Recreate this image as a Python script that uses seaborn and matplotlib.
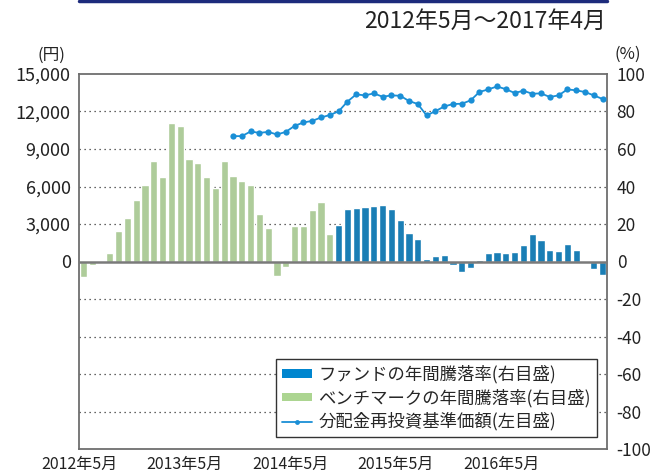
#!/usr/bin/python3

# libraries
import matplotlib
matplotlib.use('Agg')

import matplotlib.pyplot as plt
import numpy as np
import pandas as pd
import seaborn as sns
from matplotlib.lines import Line2D
from matplotlib.patches import Patch
from matplotlib.ticker import FuncFormatter

# ------------------------------------------------------------
#     Data  (2012/5 - 2017/4, monthly)
# ------------------------------------------------------------

months = pd.period_range("2012-05", "2017-04", freq="M")

# benchmark yearly return [%], 2012/5 - 2014/9 (29 months)
bench_ret = [
    -8.2, -1.8, 0.0, 4.5, 16.2, 23.4, 33.0, 40.8, 53.7, 45.1,
    74.0, 72.5, 54.7, 52.6, 45.1, 39.2, 53.7, 45.6, 43.0, 40.8,
    25.3, 17.8, -7.8, -2.9, 18.9, 18.9, 27.4, 31.7, 14.6,
]

# fund yearly return [%], 2014/10 - 2017/4 (31 months)
fund_ret = [
    19.4, 28.0, 28.5, 29.1, 29.6, 30.1, 28.0, 22.1, 15.2, 11.9,
    1.2, 2.9, 3.4, -1.8, -5.7, -3.6, 0.7, 4.5, 5.0, 4.5,
    5.0, 8.7, 14.6, 11.4, 6.1, 5.5, 9.3, 6.1, 0.0, -3.9,
    -7.3,
]

# NAV (dividends reinvested) [yen], 2013/10 - 2017/4 (43 months)
nav = [
    10030, 10030, 10400, 10290, 10370, 10160, 10370, 10850, 11120, 11250,
    11520, 11720, 12010, 12790, 13370, 13290, 13450, 13180, 13290, 13260,
    12840, 12600, 11680, 12030, 12400, 12600, 12620, 12890, 13560, 13770,
    14000, 13790, 13480, 13660, 13420, 13450, 13160, 13290, 13770, 13690,
    13560, 13290, 13000,
]

year_ticks = ["2012年5月", "2013年5月", "2014年5月", "2015年5月", "2016年5月"]

# ------------------------------------------------------------
#     Tables
# ------------------------------------------------------------

n = len(months)
pos = list(range(n))
n_bench = len(bench_ret)
bars = pd.DataFrame({
    "pos": pos,
    "ret": bench_ret + fund_ret,
    "series": ["bench"] * n_bench + ["fund"] * len(fund_ret),
})
line = pd.DataFrame({
    "pos": pos[n - len(nav):],
    "nav": nav,
})

c_fund = "#0086cf"
c_bench = "#acd591"
c_line = "#1a8fd6"
c_navy = "#1d2b7c"
c_text = "#222222"

# ------------------------------------------------------------
#     Plot
# ------------------------------------------------------------

sns.set_style("white")
plt.rcParams['font.family'] = ['Noto Sans CJK JP', 'DejaVu Sans']

fig = plt.figure(figsize=(6.54, 4.73), dpi=100)
ax = fig.add_axes([79 / 654, 1 - 449 / 473, 528 / 654, 375 / 473])

# bars -> right axis scale (%)
sns.barplot(
    data=bars, x="pos", y="ret", hue="series", order=pos,
    palette={"bench": c_bench, "fund": c_fund}, dodge=False,
    width=0.8, errorbar=None, legend=False, ax=ax, zorder=2,
)
ax.set_xlim(-0.5, n - 0.5)
ax.set_ylim(-100, 100)
ax.set_yticks(np.arange(-100, 101, 20))
ax.yaxis.set_major_formatter(FuncFormatter(lambda v, p: f"{int(round(v))}"))
ax.set_xlabel("")
ax.set_ylabel("")
ax.set_axisbelow(True)
for y in range(-80, 81, 20):
    if y != 0:
        ax.axhline(y, color="#333333", lw=0.9, ls=(0, (1, 3)), zorder=0)
ax.axhline(0, color="#7a7a7a", lw=1.8, zorder=3)

ax.set_xticks([-0.5 + 12 * i for i in range(len(year_ticks))])
ax.set_xticklabels(year_ticks)
ax.tick_params(axis="both", length=0, colors=c_text)
ax.tick_params(axis="x", pad=5, labelsize=11.5)
ax.tick_params(axis="y", pad=7, labelsize=12.5)

for sp in ax.spines.values():
    sp.set_color("#6e6e6e")
    sp.set_linewidth(1.3)

# NAV line -> left axis (yen)
ax2 = ax.twinx()
sns.lineplot(
    data=line, x="pos", y="nav", color=c_line, lw=1.3,
    marker="o", markersize=4.5, markeredgewidth=0, ax=ax2,
)
ax2.set_ylim(-15000, 15000)
ax2.set_yticks(np.arange(0, 15001, 3000))
ax2.yaxis.set_major_formatter(FuncFormatter(lambda v, p: f"{int(v):,}"))
ax2.set_xlabel("")
ax2.set_ylabel("")
ax2.tick_params(axis="y", length=0, labelsize=13, colors=c_text, pad=6)
for sp in ax2.spines.values():
    sp.set_visible(False)

# twinx moves the ticks of the first axes, so swap sides afterwards
ax.yaxis.tick_right()
ax2.yaxis.tick_left()

# unit labels
fig.text(51 / 654, 1 - 55 / 473, "(円)", ha="center", va="center", fontsize=12, color=c_text)
fig.text(628 / 654, 1 - 54 / 473, "(%)", ha="center", va="center", fontsize=12, color=c_text)

# header
fig.add_artist(Line2D([79 / 654, 607 / 654], [1 - 1.5 / 473] * 2, color=c_navy, lw=2.5))
fig.text(606 / 654, 1 - 21 / 473, "2012年5月～2017年4月", ha="right", va="center",
         fontsize=16.5, color=c_text)

# legend
handles = [
    Patch(facecolor=c_fund, edgecolor="none"),
    Patch(facecolor=c_bench, edgecolor="none"),
    Line2D([], [], color=c_line, lw=1.3, marker="o", markersize=3.5, markeredgewidth=0),
]
labels = ["ファンドの年間騰落率(右目盛)", "ベンチマークの年間騰落率(右目盛)", "分配金再投資基準価額(左目盛)"]
leg = ax2.legend(
    handles, labels, loc="lower right", bbox_to_anchor=(0.981, 0.032),
    frameon=True, fancybox=False, fontsize=12.5, handlelength=1.75,
    handleheight=0.4, labelspacing=0.3, borderpad=0.35, handletextpad=0.35,
    borderaxespad=0,
)
leg.get_frame().set_edgecolor("#333333")
leg.get_frame().set_linewidth(1.0)
leg.get_frame().set_alpha(1.0)

plt.savefig("out.png", dpi=100)
